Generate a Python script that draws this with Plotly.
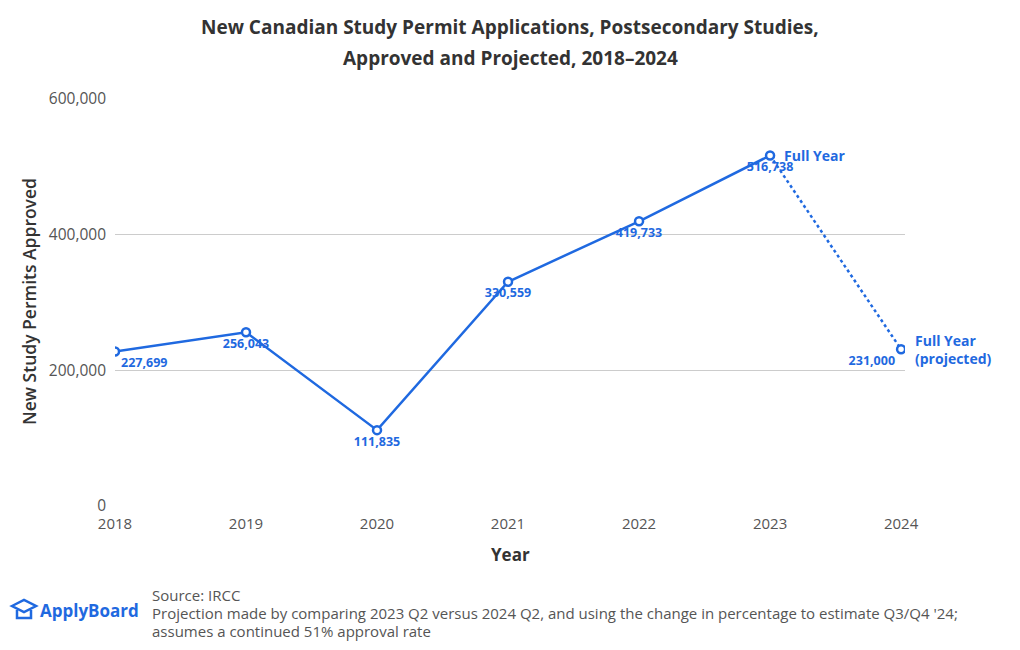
import plotly.graph_objects as go

years = [2018, 2019, 2020, 2021, 2022, 2023, 2024]
approved = [227699, 256043, 111835, 330559, 419733, 516738, 231000]
value_labels = ["227,699", "256,043", "111,835", "330,559", "419,733", "516,738", "231,000"]
label_pos = ["bottom right", "bottom center", "bottom center", "bottom center",
             "bottom center", "bottom center", "bottom left"]
end_labels = {2023: "Full Year", 2024: "Full Year<br>(projected)"}
y_ticks = [0, 200000, 400000, 600000]
y_ticktext = ["0", "200,000", "400,000", "600,000"]
footer_lines = [
    "Source: IRCC",
    "Projection made by comparing 2023 Q2 versus 2024 Q2, and using the change in percentage to estimate Q3/Q4 '24;",
    "assumes a continued 51% approval rate",
]

BLUE = "#1f69e0"
FONT = "Open Sans, Lato, sans-serif"

OFF = 8  # page body margin
W, H = 1020 - OFF, 650 - OFF
L, T = 115 - OFF, 99 - OFF
R, B = W - (905 - OFF), H - (506 - OFF)
PW, PH = W - L - R, H - T - B


def px(x):
    return (x - OFF - L) / PW


def py(y):
    return (H - B - (y - OFF)) / PH


fig = go.Figure()
fig.add_trace(go.Scatter(
    x=years[:6], y=approved[:6], mode="lines",
    line=dict(color=BLUE, width=2.5), hoverinfo="skip", showlegend=False))
fig.add_trace(go.Scatter(
    x=years[5:], y=approved[5:], mode="lines",
    line=dict(color=BLUE, width=2.5, dash="dot"), hoverinfo="skip", showlegend=False))
fig.add_trace(go.Scatter(
    x=years, y=approved, mode="markers+text",
    marker=dict(size=8, color="white", line=dict(color=BLUE, width=2.5)),
    text=value_labels, textposition=label_pos,
    textfont=dict(family=FONT, size=12.5, color=BLUE, weight="bold"),
    showlegend=False))

for yr, txt in end_labels.items():
    idx = years.index(yr)
    fig.add_annotation(x=yr, y=approved[idx], text=txt, showarrow=False,
                       xanchor="left", yanchor="middle", xshift=12,
                       align="left",
                       font=dict(family=FONT, size=14, color=BLUE, weight="bold"))

fig.update_layout(
    width=W, height=H,
    margin=dict(l=L, r=R, t=T, b=B),
    plot_bgcolor="white", paper_bgcolor="white",
    font=dict(family=FONT, color="#555"),
    xaxis=dict(range=[2018, 2024.03], tickvals=years, ticktext=[str(y) for y in years],
               showgrid=False, zeroline=False, showline=False, automargin=False,
               tickfont=dict(size=15, color="#555"), ticklabelstandoff=7),
    yaxis=dict(range=[0, 600000], tickvals=y_ticks, ticktext=y_ticktext,
               showgrid=True, gridcolor="#cccccc", gridwidth=1, automargin=False,
               zeroline=False, showline=False, ticks="",
               tickfont=dict(size=15.5, color="#555"), ticklabelstandoff=8),
)

# Title (two lines)
fig.add_annotation(xref="paper", yref="paper", x=px(510), y=py(27), xanchor="center", yanchor="middle",
                   showarrow=False, text="New Canadian Study Permit Applications, Postsecondary Studies,",
                   font=dict(family=FONT, size=19, color="#333", weight="bold"))
fig.add_annotation(xref="paper", yref="paper", x=px(510), y=py(58), xanchor="center", yanchor="middle",
                   showarrow=False, text="Approved and Projected, 2018\u20132024",
                   font=dict(family=FONT, size=19, color="#333", weight="bold"))
# Axis titles
fig.add_annotation(xref="paper", yref="paper", x=px(510), y=py(554), xanchor="center", yanchor="middle",
                   showarrow=False, text="Year",
                   font=dict(family=FONT, size=17, color="#333", weight="bold"))
fig.add_annotation(xref="paper", yref="paper", x=px(29), y=py(302), xanchor="center", yanchor="middle",
                   showarrow=False, text="New Study Permits Approved", textangle=-90,
                   font=dict(family=FONT, size=17.5, color="#333", weight=600))

# Footer: source notes
for line, yc in zip(footer_lines, [595, 613, 631]):
    fig.add_annotation(xref="paper", yref="paper", x=px(150), y=py(yc),
                       xanchor="left", yanchor="middle", showarrow=False, align="left",
                       text=line, font=dict(family=FONT, size=15, color="#555"))
fig.add_annotation(xref="paper", yref="paper", x=px(38), y=py(610),
                   xanchor="left", yanchor="middle", showarrow=False,
                   text="ApplyBoard",
                   font=dict(family=FONT, size=17, color=BLUE, weight="bold"))
# Logo icon (mortarboard-like)
fig.add_shape(type="path", xref="paper", yref="paper", layer="above",
              path="M %f %f L %f %f L %f %f L %f %f Z" % (
                  px(12), py(606), px(24), py(600), px(36), py(606), px(24), py(612)),
              line=dict(color=BLUE, width=2.5), fillcolor="rgba(0,0,0,0)")
fig.add_shape(type="path", xref="paper", yref="paper", layer="above",
              path="M %f %f L %f %f L %f %f L %f %f" % (
                  px(17), py(610), px(17), py(618), px(31), py(618), px(31), py(610)),
              line=dict(color=BLUE, width=2.5), fillcolor="rgba(0,0,0,0)")

fig.write_html("out.html")
